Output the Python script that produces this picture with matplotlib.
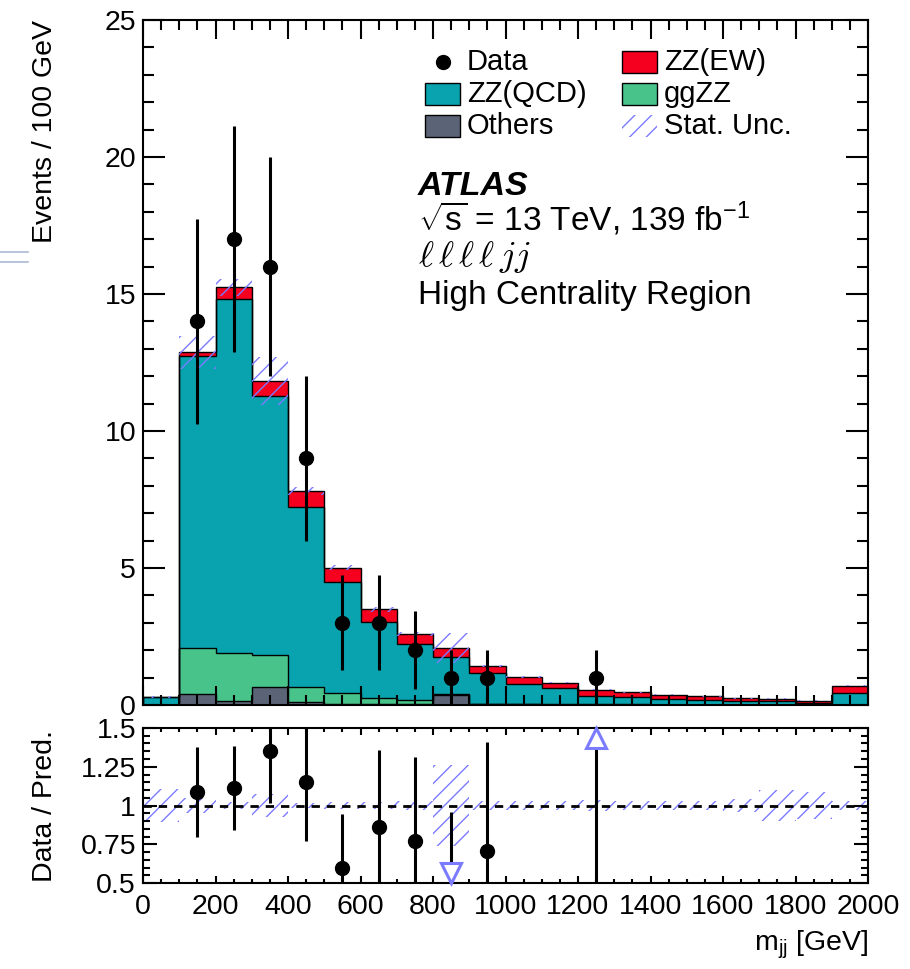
import numpy as np
import matplotlib
matplotlib.use('Agg')
import matplotlib.pyplot as plt
from matplotlib.patches import Rectangle
from matplotlib.lines import Line2D
from matplotlib.ticker import MultipleLocator, FixedLocator

plt.rcParams['font.family'] = ['Liberation Sans', 'DejaVu Sans']
plt.rcParams['mathtext.fontset'] = 'custom'
plt.rcParams['mathtext.rm'] = 'Liberation Sans'
plt.rcParams['mathtext.it'] = 'Liberation Sans:italic'
plt.rcParams['hatch.linewidth'] = 1.0

# m_jj binning, 100 GeV wide
edges = np.arange(0, 2001, 100)

# stacked predictions per bin (bottom to top)
others = [0.0, 0.39, 0.15, 0.65, 0.10, 0.05, 0.04, 0.05, 0.37, 0.02,
          0.02, 0.01, 0.01, 0.01, 0.0, 0.0, 0.0, 0.0, 0.0, 0.0]
ggzz = [0.0, 1.70, 1.74, 1.16, 0.57, 0.38, 0.20, 0.13, 0.02, 0.03,
        0.02, 0.02, 0.01, 0.01, 0.01, 0.01, 0.0, 0.0, 0.0, 0.0]
zz_qcd = [0.28, 10.64, 12.93, 9.48, 6.57, 4.07, 2.79, 2.03, 1.35, 1.11,
          0.73, 0.58, 0.32, 0.28, 0.22, 0.17, 0.13, 0.13, 0.09, 0.45]
zz_ew = [0.01, 0.15, 0.42, 0.53, 0.57, 0.51, 0.46, 0.39, 0.35, 0.26,
         0.25, 0.20, 0.21, 0.17, 0.15, 0.14, 0.11, 0.10, 0.07, 0.26]
stat_unc = [0.03, 0.60, 0.30, 0.88, 0.15, 0.10, 0.08, 0.07, 0.54, 0.04,
            0.03, 0.025, 0.02, 0.015, 0.012, 0.01, 0.01, 0.023, 0.014, 0.02]
data = [0, 14, 17, 16, 9, 3, 3, 2, 1, 1, 0, 0, 1, 0, 0, 0, 0, 0, 0, 0]

labels = ['Others', 'ggZZ', 'ZZ(QCD)', 'ZZ(EW)']
colors = ['#5b6477', '#48c48b', '#08a3ae', '#f5001f']
hatch_col = '#7b7bff'

W, H = 910, 969
fig = plt.figure(figsize=(W / 100, H / 100), dpi=100)

def fx(px):
    return px / W

def fy(py):
    return 1 - py / H

ax = fig.add_axes([fx(143), fy(705), fx(868) - fx(143), fy(20) - fy(705)])
rax = fig.add_axes([fx(143), fy(883), fx(868) - fx(143), fy(728) - fy(883)])

centers = 0.5 * (edges[:-1] + edges[1:])
data = np.array(data, dtype=float)
stat_unc = np.array(stat_unc)

# stacked fills first, outlines afterwards so every step edge stays visible
tops = []
bottom = np.zeros(len(centers))
for vals, col in zip([others, ggzz, zz_qcd, zz_ew], colors):
    top = bottom + np.array(vals)
    ax.stairs(top, edges, baseline=bottom, fill=True, facecolor=col,
              edgecolor='none', lw=0, zorder=1)
    tops.append(top)
    bottom = top
for top in tops:
    ax.stairs(top, edges, baseline=0, color='black', lw=1.0, zorder=1.2)
total = tops[-1]

# statistical uncertainty band
ax.stairs(total + stat_unc, edges, baseline=total - stat_unc, fill=True,
          facecolor='none', edgecolor=hatch_col, hatch='//', lw=0, zorder=1.3)

# data points
m = data > 0
ax.errorbar(centers[m], data[m], yerr=np.sqrt(data[m]), fmt='o', color='black',
            ms=10, elinewidth=2.2, capsize=0, zorder=5)

ax.set_xlim(0, 2000)
ax.set_ylim(0, 25)
ax.yaxis.set_major_locator(MultipleLocator(5))
ax.yaxis.set_minor_locator(MultipleLocator(1))
ax.xaxis.set_major_locator(MultipleLocator(200))
ax.xaxis.set_minor_locator(MultipleLocator(50))
ax.tick_params(axis='both', which='both', direction='in', top=True, right=True,
               width=1.5, labelsize=20.5)
ax.tick_params(axis='y', which='major', length=16, pad=5)
ax.tick_params(axis='y', which='minor', length=8)
ax.tick_params(axis='x', which='major', length=14, labelbottom=False)
ax.tick_params(axis='x', which='minor', length=7)
for s in ax.spines.values():
    s.set_linewidth(1.5)
# lift the "0" a touch so it clears the ratio panel label
ax.get_yticklabels()[0].set_verticalalignment('bottom')

# ratio panel
ratio = np.where(m, data / total, np.nan)
rerr = np.where(m, np.sqrt(data) / total, np.nan)
rel = stat_unc / total
rax.stairs(1 + rel, edges, baseline=1 - rel, fill=True, facecolor='none',
           edgecolor=hatch_col, hatch='//', lw=0, zorder=1)
rax.axhline(1, color='black', ls='--', lw=2, dashes=(3, 2.5), zorder=2)
rax.vlines(centers[m], (ratio - rerr)[m], (ratio + rerr)[m], color='black',
           lw=2.2, zorder=4)
inside = m & (ratio >= 0.5) & (ratio <= 1.5)
rax.plot(centers[inside], ratio[inside], 'o', color='black', ms=10, zorder=5)
up = m & (ratio > 1.5)
down = m & (ratio < 0.5)
rax.plot(centers[up], np.full(up.sum(), 1.435), '^', ms=15, mfc='white',
         mec=hatch_col, mew=2.2, zorder=6, clip_on=False)
rax.plot(centers[down], np.full(down.sum(), 0.565), 'v', ms=15, mfc='white',
         mec=hatch_col, mew=2.2, zorder=6, clip_on=False)

rax.set_xlim(0, 2000)
rax.set_ylim(0.5, 1.5)
rax.yaxis.set_major_locator(FixedLocator([0.5, 0.75, 1.0, 1.25, 1.5]))
rax.yaxis.set_minor_locator(MultipleLocator(0.05))
rax.set_yticklabels(['0.5', '0.75', '1', '1.25', '1.5'])
rax.xaxis.set_major_locator(MultipleLocator(200))
rax.xaxis.set_minor_locator(MultipleLocator(50))
rax.tick_params(axis='both', which='both', direction='in', top=True, right=True,
                width=1.5, labelsize=20.5)
rax.tick_params(axis='y', which='major', length=10, pad=5)
rax.tick_params(axis='y', which='minor', length=5)
rax.tick_params(axis='x', which='major', length=5, pad=8)
rax.tick_params(axis='x', which='minor', length=3)
for s in rax.spines.values():
    s.set_linewidth(1.5)

# axis titles
fig.text(fx(45), fy(20), 'Events / 100 GeV', rotation=90, ha='center',
         va='top', fontsize=20.5)
fig.text(fx(45), fy(806), 'Data / Pred.', rotation=90, ha='center',
         va='center', fontsize=20.5)
fig.text(fx(868), fy(945), r'm$_{\mathrm{jj}}$ [GeV]', ha='right',
         va='center', fontsize=20.5)

# legend, two columns
leg_fs = 21
rows = [62, 94, 126]
fig.add_artist(Line2D([fx(443)], [fy(rows[0])], marker='o', color='black', ms=10))
fig.text(fx(467), fy(rows[0]), 'Data', va='center', fontsize=leg_fs)
entries = [(622, rows[0], 'ZZ(EW)', colors[3]),
           (425, rows[1], 'ZZ(QCD)', colors[2]),
           (622, rows[1], 'ggZZ', colors[1]),
           (425, rows[2], 'Others', colors[0])]
for x0, yc, txt, col in entries:
    fig.add_artist(Rectangle((fx(x0), fy(yc + 11)), fx(35), 22 / H,
                             facecolor=col, edgecolor='black', lw=1,
                             transform=fig.transFigure))
    fig.text(fx(x0 + 42), fy(yc), txt, va='center', fontsize=leg_fs)
fig.add_artist(Rectangle((fx(622), fy(rows[2] + 11)), fx(35), 22 / H,
                         facecolor='none', edgecolor=hatch_col, hatch='//',
                         lw=0, transform=fig.transFigure))
fig.text(fx(664), fy(rows[2]), 'Stat. Unc.', va='center', fontsize=leg_fs)

# labels block
fig.text(fx(418), fy(195), 'ATLAS', fontsize=24.5, fontweight='bold',
         fontstyle='italic', va='baseline')
fig.text(fx(418), fy(231), r'$\sqrt{\mathrm{s}}$ = 13 TeV, 139 fb$^{-1}$',
         fontsize=24, va='baseline')
fig.text(fx(418), fy(266), r'$\ell\,\ell\,\ell\,\ell\,jj$', fontsize=26,
         va='baseline', math_fontfamily='cm')
fig.text(fx(418), fy(304), 'High Centrality Region', fontsize=24,
         va='baseline')

# thin marks at the left margin
for yy in (252, 262):
    fig.add_artist(Line2D([0, fx(28)], [fy(yy), fy(yy)], color='#a9b9d6', lw=1.2))

fig.savefig('out.png', dpi=100)
